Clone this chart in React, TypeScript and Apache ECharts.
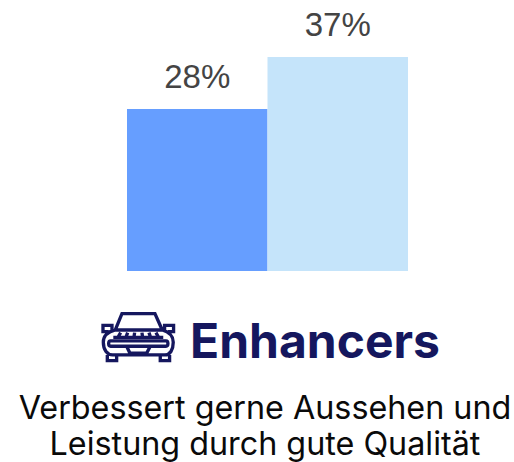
import React, { useEffect, useRef } from "react";
import * as echarts from "echarts";

const categories = ["A", "B"];
const values = [28, 37];
const barColors = ["#669EFF", "#C5E4FA"];
const titleText = "Enhancers";
const captionLines = ["Verbessert gerne Aussehen und", "Leistung durch gute Qualität"];

const carIcon =
  "M76 90 L96 41 L195 41 L217 90 " +
  "M76 90 L217 90 C238 96 250 110 250 127 C250 150 240 165 225 165 L68 165 C52 165 40 150 40 127 C40 110 52 96 76 90 Z " +
  "M66 90 L66 76 L39 76 L39 95 L56 95 " +
  "M224 90 L224 76 L251 76 L251 95 L234 95 " +
  "M52 165 L52 182 L80 182 L80 165 " +
  "M211 165 L211 182 L239 182 L239 165 " +
  "M62 123 L228 123 C236 123 236 139 228 139 L62 139 C54 139 54 123 62 123 Z " +
  "M110 139 L120 160 L170 160 L181 139 " +
  "M84 112 L92 98 M108 112 L113 98 M132 112 L134 98 M158 112 L156 98 M182 112 L177 98 M206 112 L198 98 M70 112 L220 112";

export default function App() {
  const ref = useRef<HTMLDivElement>(null);
  useEffect(() => {
    echarts.graphic.registerShape("carIcon", echarts.graphic.extendPath(carIcon, {}) as any);
    const chart = echarts.init(ref.current!, undefined, { renderer: "svg" });
    chart.setOption({
      animation: false,
      grid: { left: 127, top: 57, width: 281, height: 214 },
      xAxis: { type: "category", data: categories, show: false },
      yAxis: { type: "value", min: 0, max: 37, show: false },
      series: [
        {
          type: "bar",
          barWidth: "100%",
          data: values.map((v, i) => ({ value: v, itemStyle: { color: barColors[i] } })),
          label: {
            show: true,
            position: "top",
            distance: 16,
            formatter: "{c}%",
            fontFamily: "Liberation Sans",
            fontSize: 33,
            color: "#444444",
          },
        },
      ],
      graphic: [
        {
          type: "carIcon",
          x: 90,
          y: 300,
          scaleX: 1 / 3,
          scaleY: 1 / 3,
          style: { fill: "none", stroke: "#15175E", lineWidth: 10 },
        },
        {
          type: "text",
          x: 190,
          y: 340,
          style: {
            text: titleText,
            font: "bold 48px Inter",
            fill: "#15175E",
            textAlign: "left",
            textVerticalAlign: "middle",
          },
        },
        ...captionLines.map((line, i) => ({
          type: "text",
          x: 265,
          y: 407 + i * 36,
          style: {
            text: line,
            font: "32.3px Inter",
            fill: "#0A0A0A",
            textAlign: "center",
            textVerticalAlign: "middle",
          },
        })),
      ],
    });
    return () => chart.dispose();
  }, []);
  return <div ref={ref} style={{ position: "absolute", left: 0, top: 0, width: 514, height: 462 }} />;
}
